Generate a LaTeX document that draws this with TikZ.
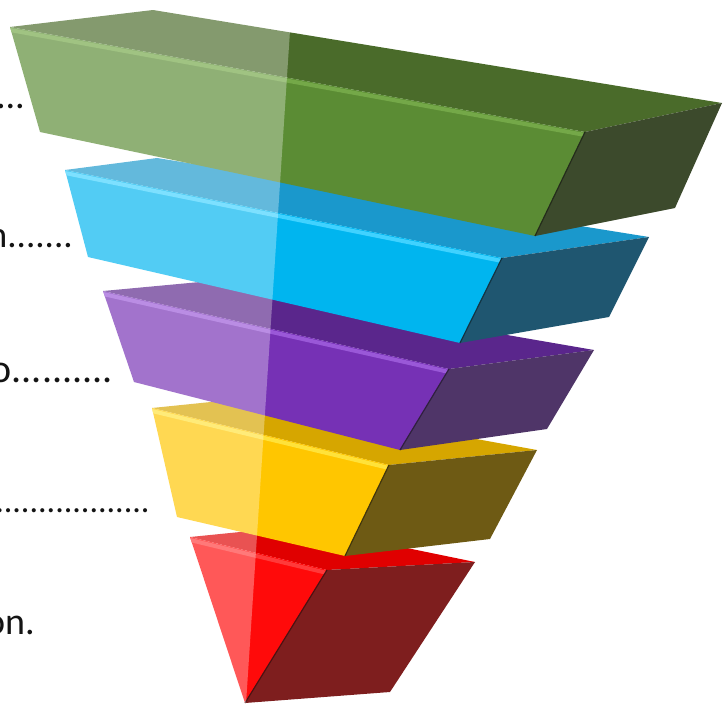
\documentclass[tikz,border=0pt]{standalone}
\usepackage{fontspec}
\setmainfont{Carlito}
\definecolor{txt}{HTML}{141414}
\definecolor{gtop}{HTML}{4A6B2A}
\definecolor{gfront}{HTML}{5B8C34}
\definecolor{gside}{HTML}{3C4A2C}
\definecolor{gbevel}{HTML}{74A848}
\definecolor{btop}{HTML}{1A98CC}
\definecolor{bfront}{HTML}{00B5EF}
\definecolor{bside}{HTML}{1F5670}
\definecolor{bbevel}{HTML}{40D2FF}
\definecolor{ptop}{HTML}{5A268C}
\definecolor{pfront}{HTML}{7631B5}
\definecolor{pside}{HTML}{4F3568}
\definecolor{pbevel}{HTML}{9A58D8}
\definecolor{ytop}{HTML}{D6A600}
\definecolor{yfront}{HTML}{FFC600}
\definecolor{yside}{HTML}{6E5A14}
\definecolor{ybevel}{HTML}{FFE23A}
\definecolor{rtop}{HTML}{E00000}
\definecolor{rfront}{HTML}{FF0A0A}
\definecolor{rside}{HTML}{7E1E1E}
\definecolor{rbevel}{HTML}{FF3A3A}

\begin{document}
\begin{tikzpicture}
  [x=1pt,y=-1pt,every node/.style={font=\fontsize{38}{42}\selectfont,text=txt,inner sep=0pt,anchor=base east}]
  \clip (0,0) rectangle (724,704);
  % green
  \coordinate (gL) at (10,27);  \coordinate (gB) at (153,10);  \coordinate (gR) at (722,103);
  \coordinate (gF) at (585,132); \coordinate (gLb) at (40,132); \coordinate (gFb) at (535,236);
  \coordinate (gRb) at (675,208);
  % blue
  \coordinate (bL) at (65,170);  \coordinate (bB) at (157,158); \coordinate (bR) at (649,237);
  \coordinate (bF) at (502,258); \coordinate (bLb) at (88,257); \coordinate (bFb) at (460,343);
  \coordinate (bRb) at (609,317);
  % purple
  \coordinate (pL) at (103,291); \coordinate (pB) at (200,282); \coordinate (pR) at (594,350);
  \coordinate (pF) at (449,369); \coordinate (pLb) at (134,382); \coordinate (pFb) at (400,450);
  \coordinate (pRb) at (547,429);
  % yellow
  \coordinate (yL) at (152,408); \coordinate (yB) at (250,398); \coordinate (yR) at (537,450);
  \coordinate (yF) at (389,465); \coordinate (yLb) at (177,517); \coordinate (yFb) at (345,556);
  \coordinate (yRb) at (490,539);
  % red
  \coordinate (rL) at (190,537); \coordinate (rB) at (300,526); \coordinate (rR) at (475,562);
  \coordinate (rF) at (327,570); \coordinate (rLb) at (245,703); \coordinate (rFb) at (245,703);
  \coordinate (rRb) at (390,692);

  \foreach \s in {r,y,p,b,g} {
    \fill[\s top] (\s L) -- (\s B) -- (\s R) -- (\s F) -- cycle;
    \fill[\s front] (\s L) -- (\s F) -- (\s Fb) -- (\s Lb) -- cycle;
    \fill[\s side] (\s F) -- (\s R) -- (\s Rb) -- (\s Fb) -- cycle;
    \begin{scope}
      \clip (\s L) -- (\s F) -- (\s Fb) -- (\s Lb) -- cycle;
      \draw[\s bevel,line width=4pt] ([yshift=-3pt]\s L) -- ([yshift=-3pt]\s F);
    \end{scope}
    \draw[\s side!60!black,line width=1.2pt] (\s F) -- (\s Fb);
  }

  % light band on the left
  \fill[white,opacity=.32] (0,0) -- (292,0) -- (246,704) -- (0,704) -- cycle;

  \node (1) at (25,108)  {....};
  \node[font=\fontsize{37}{40}\selectfont] (2) at (73,247) {n.......};
  \node[font=\fontsize{40}{44}\selectfont] (3) at (113,382) {o..........};
  \node[font=\fontsize{34}{38}\selectfont] (4) at (150,512) {....................};
  \node (5) at (35,634)  {on.};
\end{tikzpicture}
\end{document}
